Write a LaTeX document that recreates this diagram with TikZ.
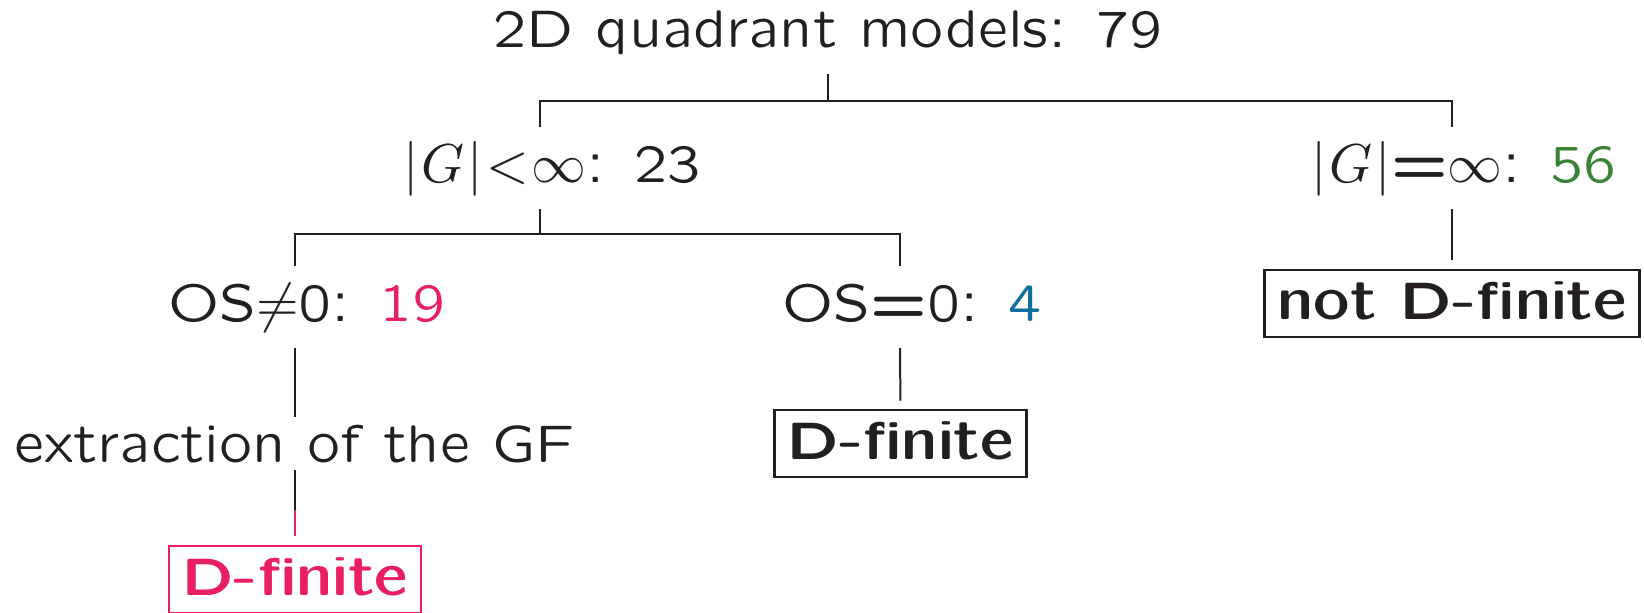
\documentclass[tikz,border=0pt]{standalone}
\usepackage{amsmath}
\usepackage{amssymb}
\usepackage{fontspec}
\setsansfont{lmsansquot8-regular.otf}[BoldFont=lmsansquot8-bold.otf]
\usepackage{tikz}
\usetikzlibrary{positioning}
\definecolor{inkblack}{RGB}{35,31,32}
\definecolor{osred}{RGB}{233,30,99}
\definecolor{osblue}{RGB}{16,110,158}
\definecolor{infgreen}{RGB}{56,132,52}
\newcommand{\RD}[1]{\textcolor{osred}{#1}}
\newcommand{\BL}[1]{\textcolor{osblue}{#1}}
\newcommand{\GR}[1]{\textcolor{infgreen}{#1}}
\newcommand{\Gabs}{$|\mkern1mu G\mkern1mu|$}

\begin{document}
\begin{tikzpicture}[x=0.2pt, y=-0.2pt, color=inkblack, line width=0.4pt,
  lvl/.style={anchor=base, inner sep=0pt, text height=10.9pt, text depth=5pt},
  lvlpad/.style={lvl, execute at begin node={\hspace*{4.8pt}}},
  note/.style={anchor=base, inner sep=0pt, text height=8.8pt, text depth=1.4pt},
  res/.style={draw, line width=0.55pt, font=\sffamily\bfseries, inner xsep=2.6pt, inner ysep=2.8pt, text height=7pt, text depth=0.8pt}]

  \sffamily\fontsize{10.6pt}{12.7pt}\selectfont

  \useasboundingbox (0,0) rectangle (1644,613);

  % levels of the tree
  \node[lvl] (top) at (828,48) {2D quadrant models: 79};
  \node[lvlpad] (fin) at (540,183) {\Gabs$\mkern1mu{<}\mkern1mu\infty$: 23};
  \node[lvlpad] (inf) at (1452,183) {\Gabs{\bfseries=}$\infty$: \GR{56}};
  \node[lvlpad] (osn) at (295,322) {OS$\neq$0: \RD{19}};
  \node[lvlpad] (osz) at (900,322) {OS{\bfseries=}0: \BL{4}};
  \node[note] (ext) at (295,462) {extraction of the GF};

  % results
  \node[res, minimum width=74.6pt] (nd) at (1452,303.5) {not D-finite};
  \node[res, minimum width=50pt] (df) at (900.5,443.5) {D-finite};
  \node[res, minimum width=50pt, draw=osred, text=osred] (pdf) at (295,579.5) {D-finite};

  \coordinate (jtop) at (828,100.7);
  \coordinate (jfin) at (540,234);

  \draw (top.south) -- (jtop); %% top
  \draw (fin.north) |- (jtop) -| (inf.north); %% fin, inf
  \draw (fin.south) -- (jfin); %% fin
  \draw (osn.north) |- (jfin) -| (osz.north); %% osn, osz
  \draw[shorten >=1.8pt] (inf.south) -- (nd.north); % inf->nd
  \draw[shorten >=1.6pt] (osz.south) -- (df.north); % osz->df
  \draw (osn.south) -- (ext.north); % osn->ext
  \path (ext.south) -- (pdf.north) coordinate[pos=0.54] (jext);
  \draw (ext.south) -- (jext);
  \draw[osred, shorten >=1.8pt] (jext) -- (pdf.north); % ext->pdf

\end{tikzpicture}
\end{document}
